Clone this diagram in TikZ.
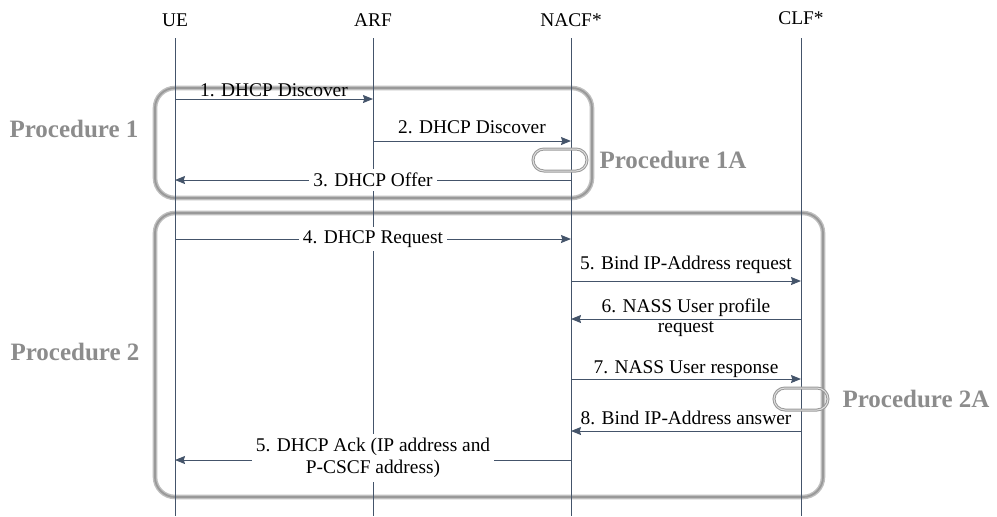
\documentclass[tikz,border=0pt]{standalone}
\usepackage{fontspec}
\setmainfont{Liberation Serif}
\usetikzlibrary{positioning,arrows.meta,calc}
\definecolor{lineBlue}{HTML}{44546A}
\definecolor{procGray}{HTML}{8C8C8C}
\colorlet{boxGray}{gray!50}
\colorlet{darkBoxGray}{gray!80}

\begin{document}
\begin{tikzpicture}[x=0.5pt, y=-0.5pt,
    every node/.style={font=\fontsize{9.7}{11}\selectfont, align=center},
    life/.style={draw=lineBlue, line width=0.5pt},
    msg/.style={draw=lineBlue, line width=0.5pt, -{Stealth[length=5pt, width=4pt, inset=0.6pt]}},
    lbl/.style={inner sep=1pt},
    gaplbl/.style={fill=white, inner sep=2pt},
    procbox/.style={draw=boxGray, double=darkBoxGray, double distance=0.9pt, line width=0.7pt, rounded corners=10pt},
    pill/.style={draw=darkBoxGray, double=gray!25, double distance=0.5pt, line width=0.5pt, rounded corners=5.5pt, minimum width=27pt, minimum height=11pt, inner sep=0pt},
    proc/.style={font=\fontsize{12.5}{14}\selectfont\bfseries, text=procGray}]
    \useasboundingbox (0,0) rectangle (997,516);

    % procedure boxes
    \draw[procbox] (155,88) rectangle (592,198);
    \draw[procbox] (155,213) rectangle (823,497);

    % lifelines
    \node (ue) at (175,20) {UE};
    \node (arf) at (373,20) {ARF};
    \node (nacf) at (571,20) {NACF*};
    \node (clf) at (801,18) {CLF*};
    \foreach \n in {ue,arf,nacf,clf}
        \draw[life] (\n |- 0,38) -- (\n |- 0,516);

    \node[proc] (p1) at (74,129) {Procedure 1};
    \node[proc] (p2) at (75,352) {Procedure 2};

    % messages
    \draw[msg] (ue |- 0,99) -- node[lbl, above] {1. DHCP Discover} (arf |- 0,99);
    \draw[msg] (arf |- 0,141) -- node[lbl, above=2.5pt] {2. DHCP Discover} (nacf |- 0,141);
    \draw[msg] (nacf |- 0,180) -- node[gaplbl, pos=0.5] {3. DHCP Offer} (ue |- 0,180);
    \draw[msg] (ue |- 0,239) -- node[gaplbl, pos=0.5] {4. DHCP Request} (nacf |- 0,239);
    \draw[msg] (nacf |- 0,281) -- node[lbl, above=2.5pt] {5. Bind IP-Address request} (clf |- 0,281);
    \draw[msg] (clf |- 0,319) -- node[lbl, above] {6. NASS User profile}
        node[lbl, below] {request} (nacf |- 0,319);
    \draw[msg] (nacf |- 0,379) -- node[lbl, above=-0.5pt] {7. NASS User response} (clf |- 0,379);
    \draw[msg] (clf |- 0,431) -- node[lbl, above=2pt] {8. Bind IP-Address answer} (nacf |- 0,431);
    \draw[msg] (nacf |- 0,460) -- node[gaplbl, yshift=1pt] {5. DHCP Ack (IP address and\\P-CSCF address)} (ue |- 0,460);

    % sub-procedures
    \node[pill] (pill1) at (560,160) {};
    \node[proc, right=2.5pt of pill1] (p1a) {Procedure 1A};
    \node[pill] (pill2) at (801,399) {};
    \node[proc, right=3.5pt of pill2] (p2a) {Procedure 2A};
\end{tikzpicture}
\end{document}
